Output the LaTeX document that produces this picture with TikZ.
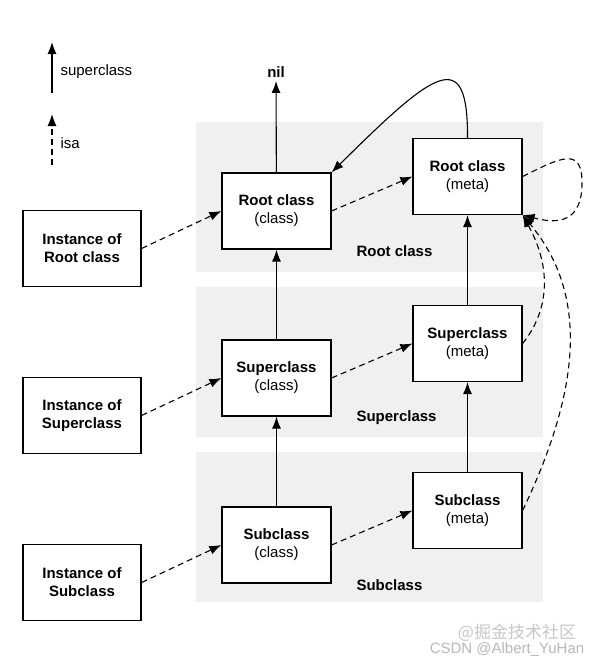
\documentclass[tikz,border=0pt]{standalone}
\usepackage{fontspec}
\setmainfont{Liberation Sans}
\newfontfamily\cjkfont{Noto Sans CJK SC}
\usetikzlibrary{arrows.meta}

\begin{document}
\begin{tikzpicture}[x=1pt, y=-1pt,
    font=\fontsize{15}{18}\selectfont,
    box/.style={draw, line width=1.2pt, fill=white, minimum width=109pt,
      minimum height=76pt, align=center, inner sep=0pt},
    bold/.style={font=\fontsize{15}{18}\selectfont\bfseries},
    band/.style={fill=black!6},
    superarrow/.style={-{Latex[length=12pt,width=9pt]}, line width=1.1pt},
    isaarrow/.style={superarrow, dash pattern=on 6pt off 4pt}]
  \useasboundingbox (0,0) rectangle (599,664);

  % bands
  \fill[band] (196,122) rectangle (543,272);
  \fill[band] (196,287) rectangle (543,437);
  \fill[band] (196,452) rectangle (543,602);

  % legend
  \coordinate (supA) at (52,93);
  \coordinate (supB) at (52,42);
  \coordinate (isaA) at (52,165);
  \coordinate (isaB) at (52,114);
  \draw[superarrow] (supA) -- (supB);
  \draw[isaarrow] (isaA) -- (isaB);
  \node[anchor=west] (suplbl) at (57,72) {superclass};
  \node[anchor=west] (isalbl) at (57,143) {isa};

  \foreach \n/\txt/\dy in {root/Root class/0, sup/Superclass/167, sub/Subclass/334} {
    \node[box] (\n cls) at (276.5,211+\dy) {\textbf{\txt}\\(class)};
    \node[box] (\n meta) at (467.5,176.5+\dy) {\textbf{\txt}\\(meta)};
    \node[box, minimum width=118pt] (\n inst) at (82,248.5+\dy)
      {\textbf{Instance of}\\\textbf{\txt}};
    \node[anchor=west, bold] (\n lbl) at (353,251+\dy) {\txt};
    \draw[isaarrow] (\n inst.east) -- (\n cls.west);
    \draw[isaarrow] (\n cls.east) -- (\n meta.west);
  }

  % superclass chain
  \node[bold] (nil) at (276,72) {nil};
  \draw[superarrow] (rootcls) -- (nil);
  \draw[superarrow] (supcls) -- (rootcls);
  \draw[superarrow] (subcls) -- (supcls);
  \draw[superarrow] (supmeta) -- (rootmeta);
  \draw[superarrow] (submeta) -- (supmeta);
  \draw[superarrow] (rootmeta.north) .. controls (468,45) and (435,70) .. (rootcls.north east);

  % isa of metaclasses
  \draw[isaarrow] (rootmeta.east) .. controls (560,158) and (583,145) .. (582,185)
    .. controls (581,228) and (550,222) .. (rootmeta.south east);
  \draw[isaarrow] (supmeta.east) .. controls (548,312) and (553,270) .. (rootmeta.south east);
  \draw[isaarrow] (submeta.east) .. controls (585,380) and (585,290) .. (rootmeta.south east);

  % watermark
  \node[text=black!22, font=\cjkfont\fontsize{17}{17}\selectfont] (wm1) at (517,633) {@掘金技术社区};
  \node[text=black!28] (wm2) at (507,650) {CSDN @Albert\_YuHan};
\end{tikzpicture}
\end{document}
